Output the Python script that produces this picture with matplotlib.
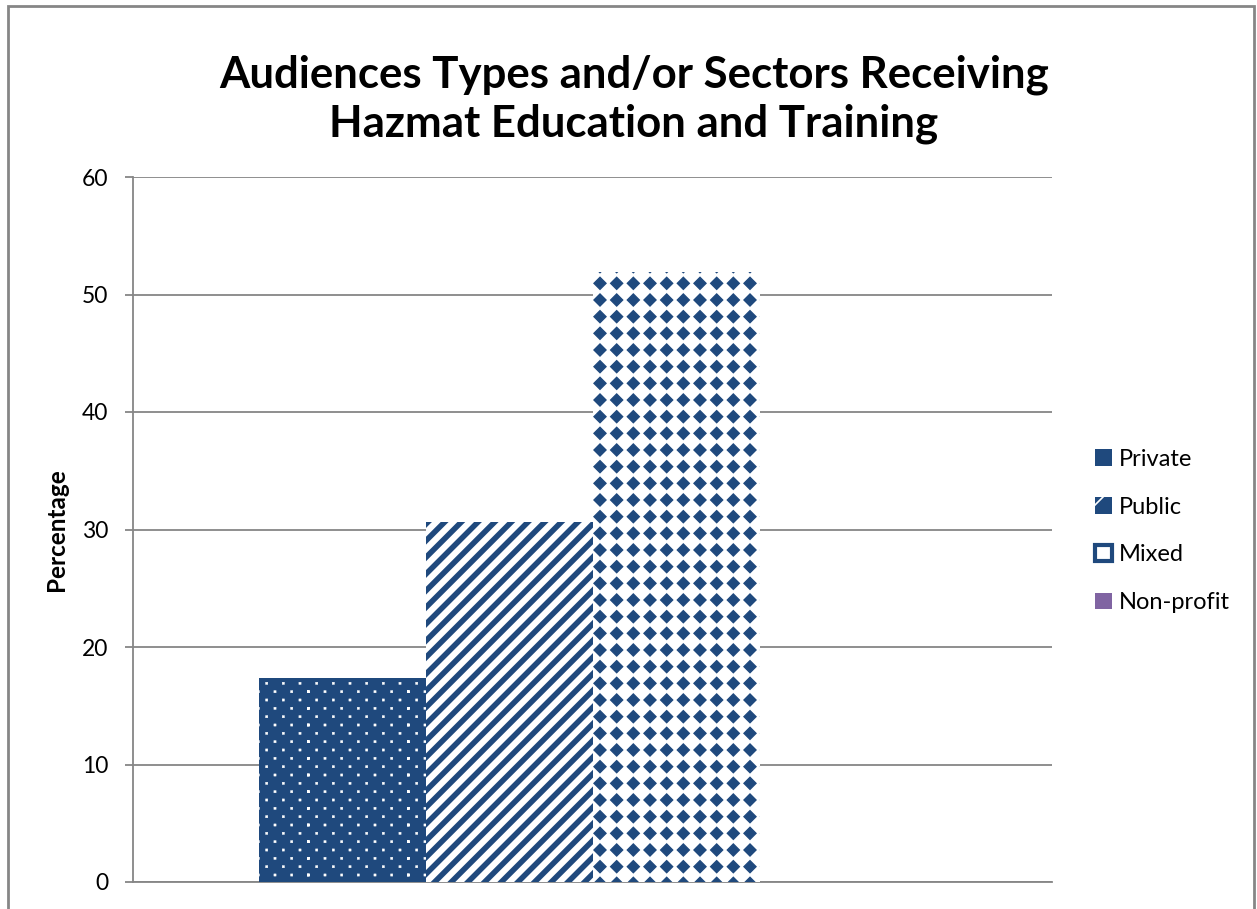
import matplotlib
matplotlib.use("Agg")
import matplotlib.pyplot as plt
import matplotlib.hatch as mhatch
from matplotlib.path import Path
from matplotlib.patches import Rectangle, Patch

categories = ["Private", "Public", "Mixed", "Non-profit"]
values = [17.4, 30.6, 51.9, 0.0]
yticks = [0, 10, 20, 30, 40, 50, 60]
title = "Audiences Types and/or Sectors Receiving\nHazmat Education and Training"
ylabel = "Percentage"

BLUE = "#1F497D"
PURPLE = "#8064A2"


class DiamondGrid(mhatch.HatchPatternBase):
    """Aligned grid of filled diamonds, used for the '*' hatch."""
    def __init__(self, hatch, density):
        self.num_rows = hatch.count('*') * density
        self.size = 0.36
        self.shape = Path([(0, -1), (1, 0), (0, 1), (-1, 0), (0, -1)], closed=True)
        n = len(self.shape.vertices)
        self.num_vertices = (self.num_rows + 1) ** 2 * n if self.num_rows else 0

    def set_vertices_and_codes(self, vertices, codes):
        offset = 1.0 / self.num_rows
        sv = self.shape.vertices * offset * self.size
        sc = self.shape.codes
        n = len(sv)
        cursor = 0
        for row in range(self.num_rows + 1):
            for col in range(self.num_rows + 1):
                vertices[cursor:cursor + n] = sv + (col * offset, row * offset)
                codes[cursor:cursor + n] = sc
                cursor += n


class DotLattice(mhatch.HatchPatternBase):
    """Small square dots: rows half a column-step apart, alternate rows shifted; 'o' hatch."""
    def __init__(self, hatch, density):
        self.num_cols = hatch.count('o') * density
        self.num_rows = 2 * self.num_cols
        self.half = 0.011
        self.shape = Path([(-1, -1), (1, -1), (1, 1), (-1, 1), (-1, -1)], closed=True)
        n = len(self.shape.vertices)
        self.num_vertices = (self.num_rows + 1) * (self.num_cols + 1) * n if self.num_cols else 0

    def set_vertices_and_codes(self, vertices, codes):
        col_step = 1.0 / self.num_cols
        row_step = 1.0 / self.num_rows
        sv = self.shape.vertices * self.half
        sc = self.shape.codes
        n = len(sv)
        cursor = 0
        for row in range(self.num_rows + 1):
            shift = 0.5 * col_step if row % 2 else 0.0
            for col in range(self.num_cols + 1):
                vertices[cursor:cursor + n] = sv + ((col * col_step + shift) % (1.0 + 1e-9),
                                                    row * row_step)
                codes[cursor:cursor + n] = sc
                cursor += n


mhatch._hatch_types = [t for t in mhatch._hatch_types
                       if t not in (mhatch.Stars, mhatch.SmallCircles)] + [DiamondGrid, DotLattice]

styles = [
    dict(facecolor=BLUE, edgecolor="white", hatch="o", hlw=0.3),
    dict(facecolor="white", edgecolor=BLUE, hatch="//", hlw=4.0),
    dict(facecolor="white", edgecolor=BLUE, hatch="*", hlw=1.0),
    dict(facecolor=PURPLE, edgecolor=PURPLE, hatch=None, hlw=1.0),
]
legend_styles = [
    dict(facecolor=BLUE, edgecolor=BLUE, hatch=None, linewidth=0),
    dict(facecolor=BLUE, edgecolor="white", hatch="/", linewidth=0),
    dict(facecolor="white", edgecolor=BLUE, hatch=None, linewidth=3),
    dict(facecolor=PURPLE, edgecolor=PURPLE, hatch=None, linewidth=0),
]

plt.rcParams['font.family'] = ['Lato', 'DejaVu Sans']
fig = plt.figure(figsize=(12.57, 9.09), dpi=100)
ax = fig.add_axes([133/1257, 1-882/909, (1052-133)/1257, (882-177)/909])

w = 167/919
n = len(categories)
for i, (cat, v, st) in enumerate(zip(categories, values, styles)):
    x = (i - (n-1)/2) * w
    with plt.rc_context({'hatch.linewidth': st['hlw']}):
        bars = ax.bar([x], [v], width=w, facecolor=st['facecolor'],
                      edgecolor=st['edgecolor'], hatch=st['hatch'],
                      linewidth=0, label=cat, zorder=3)
        for b in bars:
            if hasattr(b, 'set_hatch_linewidth'):
                b.set_hatch_linewidth(st['hlw'])

ax.set_xlim(-0.5, 0.5)
ax.set_ylim(0, 60)
ax.set_yticks(yticks)
ax.set_xticks([])
ax.tick_params(axis='y', labelsize=16.5, length=6, width=1.3, color='#868686', pad=12)
ax.yaxis.grid(True, color='#868686', linewidth=1.3, zorder=0)
ax.set_axisbelow(True)
for s in ['top', 'right']:
    ax.spines[s].set_visible(False)
for s in ['left', 'bottom']:
    ax.spines[s].set_color('#868686')
    ax.spines[s].set_linewidth(1.3)
ax.set_ylabel(ylabel, fontsize=17.5, fontweight='bold', labelpad=10)

fig.text(634/1257, 1-99/909, title, ha='center', va='center', fontsize=31.5,
         fontweight='bold', linespacing=1.25)

handles = []
with plt.rc_context({'hatch.linewidth': 1.2}):
    for cat, ls in zip(categories, legend_styles):
        handles.append(Patch(label=cat, **ls))
    leg = fig.legend(handles=handles, loc='center left',
                     bbox_to_anchor=(1074/1257, 1-531/909),
                     frameon=False, fontsize=17, handlelength=0.7, handleheight=0.7,
                     handletextpad=0.3, labelspacing=1.14)

fig.add_artist(Rectangle((8/1257, -0.05), (1254-8)/1257, 1.05-6/909,
                         transform=fig.transFigure, fill=False,
                         edgecolor='#868686', linewidth=2, clip_on=False))

fig.savefig("out.png", dpi=100)
